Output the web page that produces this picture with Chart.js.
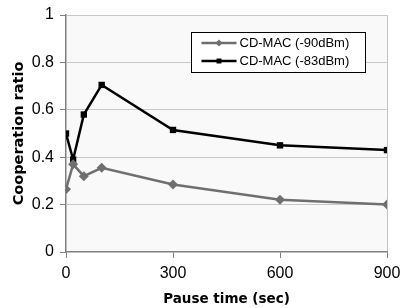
<!DOCTYPE html>
<html>
<head>
<meta charset="utf-8">
<script src="https://cdn.jsdelivr.net/npm/chart.js@4"></script>
<style>
  html, body { margin: 0; padding: 0; background: #fff; }
  #wrap { width: 403px; height: 308px; position: relative; }
</style>
</head>
<body>
<div id="wrap"><canvas id="chart" width="403" height="308"></canvas></div>
<script>
const pauseTimes = [0, 20, 50, 100, 300, 600, 900];
const seriesNames = ['CD-MAC (-90dBm)', 'CD-MAC (-83dBm)'];
const ratio90 = [0.265, 0.37, 0.32, 0.355, 0.285, 0.22, 0.2];
const ratio83 = [0.50, 0.39, 0.58, 0.705, 0.515, 0.45, 0.43];
const xTicks = [0, 300, 600, 900];
const yTicks = [0, 0.2, 0.4, 0.6, 0.8, 1];

const FONT = '"Liberation Sans", Arial, sans-serif';
const NARROW = '"Liberation Sans Narrow", "Arial Narrow", "Liberation Sans", sans-serif';
const WIDE_BOLD = '"DejaVu Sans", Verdana, sans-serif';
const GRAY = '#6f6f6f';

const toPoints = (values) => pauseTimes.map((x, i) => ({ x, y: values[i] }));

// plot background + right border
const plotFrame = {
  id: 'plotFrame',
  beforeDraw(chart) {
    const { ctx, chartArea: a } = chart;
    ctx.save();
    ctx.fillStyle = '#f9f9f9';
    ctx.fillRect(a.left, a.top, a.right - a.left, a.bottom - a.top);
    ctx.strokeStyle = '#c4c4c4';
    ctx.lineWidth = 1;
    ctx.beginPath();
    ctx.moveTo(a.right + 0.5, a.top);
    ctx.lineTo(a.right + 0.5, a.bottom);
    ctx.stroke();
    ctx.restore();
  }
};

// boxed legend inside the plot, upper right
const boxLegend = {
  id: 'boxLegend',
  afterDraw(chart) {
    const { ctx } = chart;
    const x = 191.5, y = 32.5, w = 174, h = 40;
    ctx.save();
    ctx.fillStyle = '#fff';
    ctx.fillRect(x, y, w, h);
    ctx.strokeStyle = '#000';
    ctx.lineWidth = 1;
    ctx.strokeRect(x, y, w, h);
    chart.data.datasets.forEach((ds, i) => {
      const cy = y + 10.5 + i * 18;
      ctx.strokeStyle = ds.borderColor;
      ctx.lineWidth = 2.5;
      ctx.beginPath();
      ctx.moveTo(x + 10, cy);
      ctx.lineTo(x + 45, cy);
      ctx.stroke();
      ctx.fillStyle = ds.backgroundColor;
      Chart.helpers.drawPoint(ctx, {
        pointStyle: ds.pointStyle,
        radius: 3.5,
        borderWidth: 0
      }, x + 27.5, cy);
      ctx.fillStyle = '#000';
      ctx.font = '13px ' + FONT;
      ctx.textBaseline = 'middle';
      ctx.textAlign = 'left';
      ctx.fillText(ds.label, x + 48, cy + 0.5);
    });
    ctx.restore();
  }
};

new Chart(document.getElementById('chart'), {
  type: 'line',
  data: {
    datasets: [
      {
        label: seriesNames[0],
        data: toPoints(ratio90),
        borderColor: GRAY,
        backgroundColor: GRAY,
        borderWidth: 2.5,
        pointStyle: 'rectRot',
        pointRadius: 5,
        pointBorderWidth: 0,
        tension: 0
      },
      {
        label: seriesNames[1],
        data: toPoints(ratio83),
        borderColor: '#000',
        backgroundColor: '#000',
        borderWidth: 2.5,
        pointStyle: 'rect',
        pointRadius: 4.5,
        pointBorderWidth: 0,
        tension: 0
      }
    ]
  },
  options: {
    responsive: false,
    animation: false,
    layout: { padding: { left: 0, right: 16, top: 15, bottom: 0 } },
    plugins: {
      legend: { display: false },
      tooltip: { enabled: false }
    },
    scales: {
      x: {
        type: 'linear',
        min: 0,
        max: 900,
        afterBuildTicks: (scale) => { scale.ticks = xTicks.map((value) => ({ value })); },
        afterFit: (scale) => {
          scale.height = 56;
          scale.paddingLeft = 0;
          scale.paddingRight = 0;
        },
        border: { color: '#808080', width: 1.5 },
        grid: { drawOnChartArea: false, tickLength: 6, color: '#808080', lineWidth: 1 },
        ticks: { color: '#000', font: { family: NARROW, size: 16 }, padding: 6, maxRotation: 0 },
        title: {
          display: true,
          text: 'Pause time (sec)',
          color: '#000',
          font: { family: WIDE_BOLD, size: 13.5, weight: 'bold' },
          padding: { top: 3, bottom: 0 }
        }
      },
      y: {
        min: 0,
        max: 1,
        afterBuildTicks: (scale) => { scale.ticks = yTicks.map((value) => ({ value })); },
        afterFit: (scale) => {
          scale.width = 66;
          scale.paddingTop = 0;
          scale.paddingBottom = 0;
        },
        border: { color: '#808080', width: 1.5 },
        grid: {
          color: (c) => c.tick && c.tick.value === 0 ? 'rgba(0,0,0,0)' : '#c8c8c8',
          tickColor: '#808080',
          tickLength: 6,
          lineWidth: 1
        },
        ticks: {
          color: '#000',
          font: { family: FONT, size: 16 },
          padding: 6,
          callback: (v) => String(Math.round(v * 10) / 10)
        },
        title: {
          display: true,
          text: 'Cooperation ratio',
          color: '#000',
          font: { family: WIDE_BOLD, size: 14.5, weight: 'bold' },
          padding: { top: 11, bottom: 0 }
        }
      }
    }
  },
  plugins: [plotFrame, boxLegend]
});
</script>
</body>
</html>
